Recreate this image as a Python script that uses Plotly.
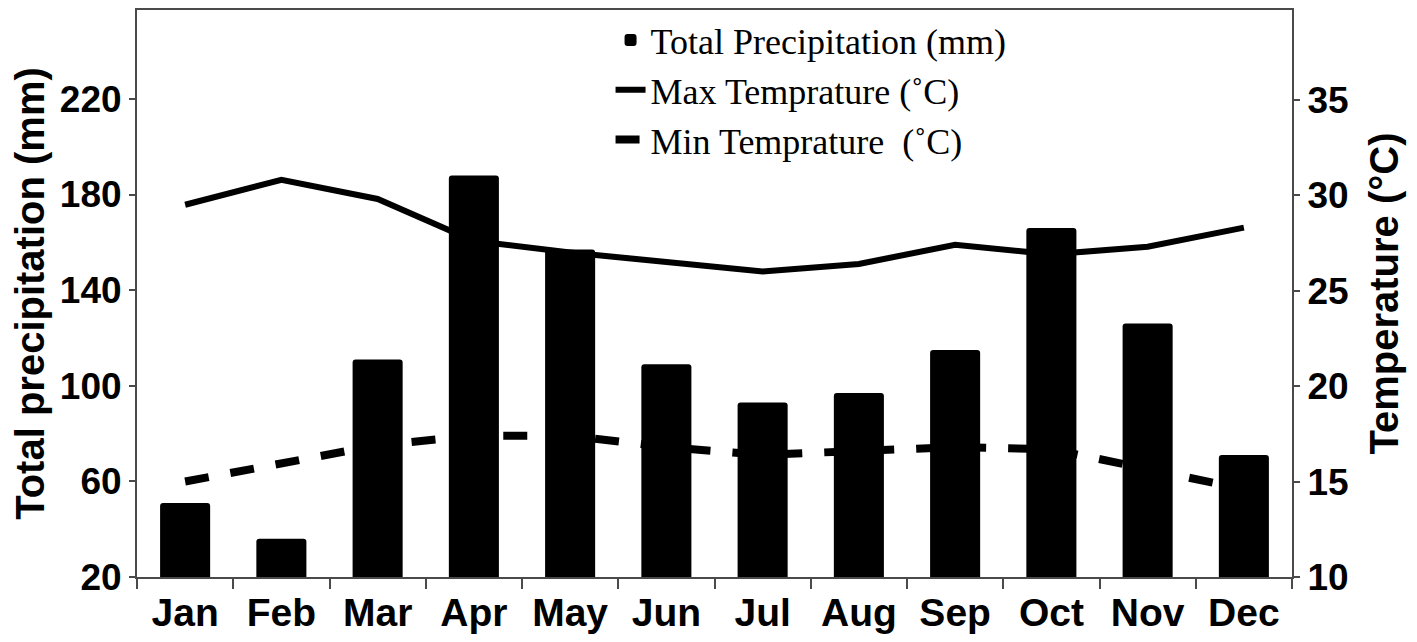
import plotly.graph_objects as go

months = ["Jan", "Feb", "Mar", "Apr", "May", "Jun", "Jul", "Aug", "Sep", "Oct", "Nov", "Dec"]
precip_mm = [51, 36, 111, 188, 157, 109, 93, 97, 115, 166, 126, 71]
max_temp = [29.5, 30.8, 29.8, 27.6, 27.0, 26.5, 26.0, 26.4, 27.4, 26.9, 27.3, 28.3]
min_temp = [15.0, 15.9, 16.9, 17.4, 17.4, 16.8, 16.4, 16.6, 16.8, 16.7, 15.6, 14.6]

left_ticks = [20, 60, 100, 140, 180, 220]
right_ticks = [10, 15, 20, 25, 30, 35]

axis_col = "#4a4a4a"
ytick_font = dict(family="Liberation Sans", size=37, color="black", weight="bold")
xtick_font = dict(family="Liberation Sans", size=39, color="black", weight="bold")
title_font = dict(family="Liberation Sans", size=40, color="black", weight="bold")

NB = "\u00a0"

fig = go.Figure()
fig.add_trace(go.Bar(
    x=months, y=precip_mm, yaxis="y2", name="Total Precipitation (mm)",
    marker=dict(color="black", line=dict(width=0), cornerradius=3),
))
fig.add_trace(go.Scatter(
    x=months, y=max_temp, yaxis="y", mode="lines", name="Max Temprature (˚C)",
    line=dict(color="black", width=6),
))
fig.add_trace(go.Scatter(
    x=months, y=min_temp, yaxis="y", mode="lines",
    name="Min Temprature" + NB + NB + "(˚C)",
    line=dict(color="black", width=8, dash="24px,22px"),
))

fig.update_layout(
    width=1409, height=634,
    margin=dict(l=129, r=125, t=2, b=65, autoexpand=False),
    plot_bgcolor="white", paper_bgcolor="white",
    bargap=0.48,
    showlegend=True,
    legend=dict(
        x=0.41, y=1.0, xanchor="left", yanchor="top",
        font=dict(family="Liberation Serif", size=36, color="black"),
        bgcolor="rgba(0,0,0,0)", tracegroupgap=0, itemwidth=30,
    ),
    xaxis=dict(
        categoryorder="array", categoryarray=months,
        showline=True, linecolor=axis_col, linewidth=2, mirror=True,
        ticks="outside", tickson="boundaries", ticklen=10, tickcolor=axis_col, tickwidth=2,
        tickfont=xtick_font, showgrid=False, zeroline=False,
    ),
    yaxis=dict(
        side="right", range=[10, 39.7], tickvals=right_ticks,
        showline=True, linecolor=axis_col, linewidth=2,
        ticks="outside", ticklen=6, tickcolor=axis_col, tickwidth=2,
        tickfont=ytick_font, showgrid=False, zeroline=False,
        title=dict(text="Temperature (°C)", standoff=22, font=title_font),
    ),
    yaxis2=dict(
        side="left", overlaying="y", range=[20, 257.2], tickvals=left_ticks,
        showline=True, linecolor=axis_col, linewidth=2,
        ticks="outside", ticklen=6, tickcolor=axis_col, tickwidth=2,
        tickfont=ytick_font, showgrid=False, zeroline=False,
        title=dict(text="Total precipitation (mm)", standoff=8, font=title_font),
    ),
)

fig.write_html("out.html")
